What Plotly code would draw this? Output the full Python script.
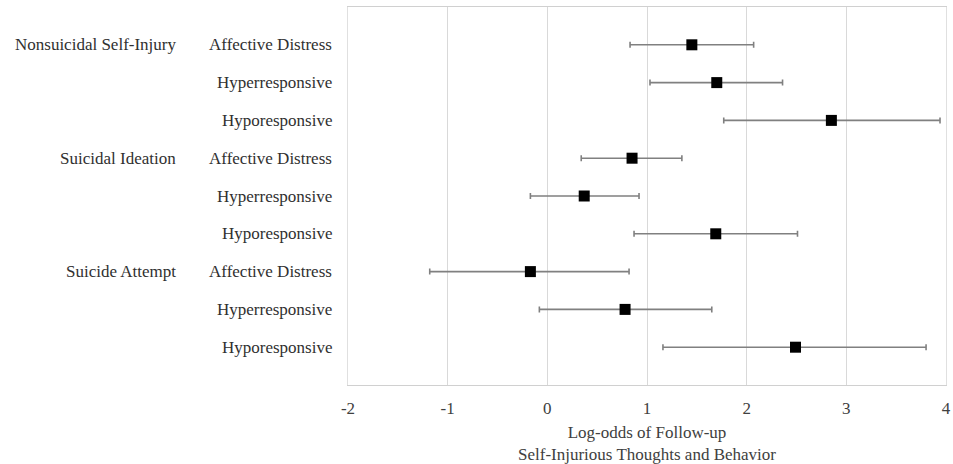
import plotly.graph_objects as go

groups = ["Nonsuicidal Self-Injury", "Suicidal Ideation", "Suicide Attempt"]
subtypes = ["Affective Distress", "Hyperresponsive", "Hyporesponsive"]
estimates = [1.45, 1.70, 2.85, 0.85, 0.37, 1.69, -0.17, 0.78, 2.49]
lower = [0.83, 1.03, 1.77, 0.34, -0.17, 0.87, -1.18, -0.08, 1.16]
upper = [2.07, 2.36, 3.94, 1.35, 0.92, 2.51, 0.82, 1.65, 3.80]
x_ticks = [-2, -1, 0, 1, 2, 3, 4]

n = len(estimates)
ypos = [n - i for i in range(n)]
err_plus = [u - e for u, e in zip(upper, estimates)]
err_minus = [e - l for e, l in zip(estimates, lower)]

FONT = "Liberation Serif, Times New Roman, serif"
FS = 17

fig = go.Figure()
fig.add_trace(go.Scatter(
    x=estimates, y=ypos, mode="markers",
    marker=dict(symbol="square", size=11, color="black"),
    error_x=dict(type="data", symmetric=False, array=err_plus, arrayminus=err_minus,
                 color="#808080", thickness=1.6, width=3),
    showlegend=False,
))

annotations = []
for i in range(n):
    annotations.append(dict(
        x=0, xref="paper", y=ypos[i], yref="y", xanchor="right", yanchor="middle",
        xshift=-14, text=subtypes[i % 3], showarrow=False,
        font=dict(family=FONT, size=FS, color="#303030")))
for g, name in enumerate(groups):
    annotations.append(dict(
        x=0, xref="paper", y=ypos[g * 3], yref="y", xanchor="right", yanchor="middle",
        xshift=-170, text=name, showarrow=False,
        font=dict(family=FONT, size=FS, color="#303030")))

fig.update_layout(
    width=953, height=464,
    margin=dict(l=348, r=7, t=7, b=79),
    paper_bgcolor="white", plot_bgcolor="white",
    font=dict(family=FONT, size=FS, color="#404040"),
    annotations=annotations,
    xaxis=dict(
        range=[-2, 4], tickvals=x_ticks, ticktext=[str(t) for t in x_ticks],
        showgrid=True, gridcolor="#d9d9d9", gridwidth=1, automargin=False,
        zeroline=False, showline=True, linecolor="#d0d0d0", linewidth=1, mirror=True,
        ticks="", ticklabelstandoff=8,
        tickfont=dict(family=FONT, size=FS, color="#404040"),
        title=dict(text="Log-odds of Follow-up<br>Self-Injurious Thoughts and Behavior",
                   font=dict(family=FONT, size=FS, color="#404040"), standoff=9),
    ),
    yaxis=dict(
        range=[0, 10], showticklabels=False, showgrid=False, zeroline=False,
        automargin=False,
        showline=True, linecolor="#e0e0e0", linewidth=1, mirror=True, ticks="",
    ),
)

fig.write_html("out.html", config={"displayModeBar": False},
               post_script="document.body.style.margin='0';document.body.style.padding='0';")
